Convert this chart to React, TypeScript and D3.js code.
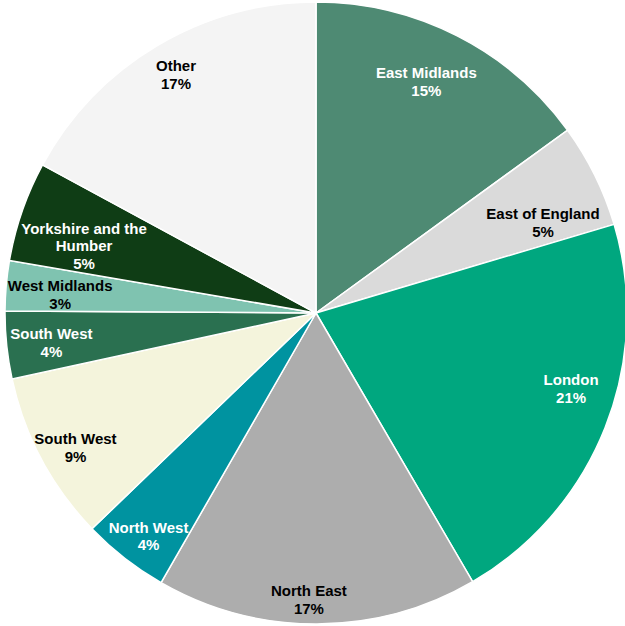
import React from "react";
import * as d3 from "d3";

const categories = ["East Midlands", "East of England", "London", "North East", "North West", "South West", "South West", "West Midlands", "Yorkshire and the Humber", "Other"];
const values = [15.0, 5.4, 21.2, 16.7, 4.5, 8.8, 3.5, 2.6, 5.2, 17.1];
const percentLabels = ["15%", "5%", "21%", "17%", "4%", "9%", "4%", "3%", "5%", "17%"];
const labelLines = [["East Midlands"], ["East of England"], ["London"], ["North East"], ["North West"], ["South West"], ["South West"], ["West Midlands"], ["Yorkshire and the", "Humber"], ["Other"]];
const colors = ["#4e8a73", "#dadada", "#00a77f", "#adadad", "#0093a0", "#f4f4dc", "#2a7050", "#7fc3b0", "#0f3d15", "#f4f4f4"];
const textColors = ["#fff", "#000", "#fff", "#000", "#fff", "#000", "#fff", "#000", "#fff", "#000"];
// label placement: radial fraction, angle shift (deg)
const labelRadius = [0.827, 0.786, 0.855, 0.92, 0.895, 0.885, 0.856, 0.825, 0.777, 0.89];
const labelShift = [-1.6, 4.5, -5.2, 1.6, -1, -1, -0.35, -0.8, -2.8, 0.4];

export default function App() {
  const W = 625, H = 626;
  const cx = 308, cy = 305, R = 311;
  const pie = d3.pie<number>().sort(null).value((d) => d)(values);
  const arc = d3.arc<d3.PieArcDatum<number>>().innerRadius(0).outerRadius(R);
  return (
    <svg width={W} height={H} style={{ position: "absolute", left: 0, top: 0 }}>
      <g transform={`translate(${cx + 8},${cy + 8})`}>
        {pie.map((p, i) => (
          <path key={i} d={arc(p) || ""} fill={colors[i]} stroke="#fff" strokeWidth={1.5} />
        ))}
        {pie.map((p, i) => {
          const a = (p.startAngle + p.endAngle) / 2 + (labelShift[i] * Math.PI) / 180;
          const r = labelRadius[i] * R;
          const x = r * Math.sin(a);
          const y = -r * Math.cos(a);
          const lines = [...labelLines[i], percentLabels[i]];
          const lh = 17.7;
          const y0 = y - ((lines.length - 1) * lh) / 2;
          return (
            <text key={i} x={x} y={y0} textAnchor="middle" dominantBaseline="central"
              fontFamily="Liberation Sans, Arial, sans-serif" fontWeight="bold" fontSize={15} fill={textColors[i]}>
              {lines.map((l, j) => (
                <tspan key={j} x={x} dy={j === 0 ? 0 : lh}>{l}</tspan>
              ))}
            </text>
          );
        })}
      </g>
    </svg>
  );
}
